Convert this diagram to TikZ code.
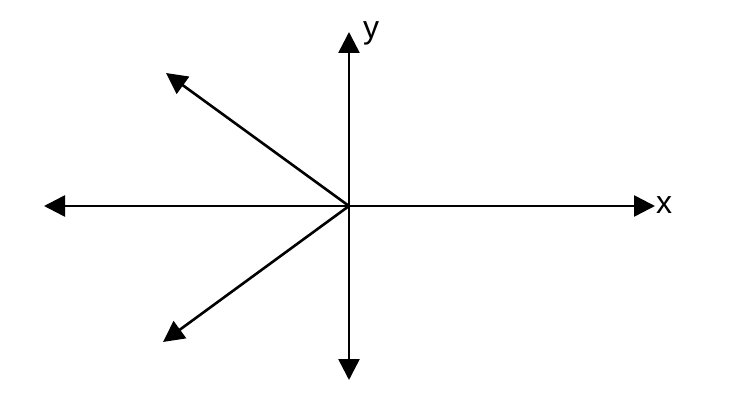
\documentclass[tikz,border=0pt]{standalone}
\usepackage{fontspec}
\setmainfont{Liberation Sans}
\usetikzlibrary{arrows.meta}
\begin{document}
\begin{tikzpicture}[x=1pt,y=-1pt,
  vec/.style={line width=2.6pt,-{Triangle[length=21pt,width=21pt]}},
  lbl/.style={font=\fontsize{32}{34}\selectfont,inner sep=0pt,anchor=base west}]
\useasboundingbox (0,0) rectangle (740,401);
\coordinate (o) at (349,206);
\coordinate (r) at (655,206);
\coordinate (l) at (44,206);
\coordinate (u) at (349,32);
\coordinate (d) at (349,380);
\coordinate (ul) at (166,73);
\coordinate (dl) at (163,342);
\draw[vec] (o) -- (r);
\draw[vec] (o) -- (l);
\draw[vec] (o) -- (u);
\draw[vec] (o) -- (d);
\draw[vec] (o) -- (ul);
\draw[vec] (o) -- (dl);
\node[lbl] (xl) at (656,214) {x};
\node[lbl] (yl) at (363,39) {y};
\end{tikzpicture}
\end{document}
